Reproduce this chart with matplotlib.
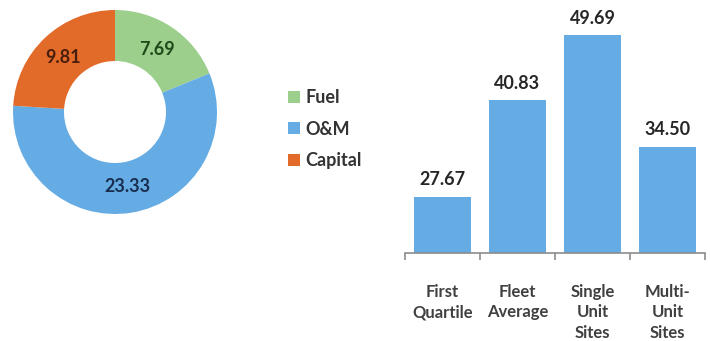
import numpy as np
import matplotlib
matplotlib.use("Agg")
import matplotlib.pyplot as plt

plt.rcParams['font.family'] = ['Lato', 'DejaVu Sans']

# Cost components (donut)
components = ["Fuel", "O&M", "Capital"]
component_values = [7.69, 23.33, 9.81]
component_colors = ["#9ccf8c", "#65ace4", "#e26b2a"]
component_label_colors = ["#1f4a1a", "#1a2e4f", "#4a1e0c"]

# Total cost by plant group (bars)
groups = ["First\nQuartile", "Fleet\nAverage", "Single\nUnit\nSites", "Multi-\nUnit\nSites"]
group_values = [27.67, 40.83, 49.69, 34.50]
bar_color = "#65ace4"

W, H = 710, 341
fig = plt.figure(figsize=(W / 100, H / 100), dpi=100)


def px_axes(left, top, right, bottom):
    return fig.add_axes([left / W, 1 - bottom / H, (right - left) / W, (bottom - top) / H])


# ---- donut ----
ax_d = px_axes(13, 10, 217, 214)
wedges, _ = ax_d.pie(component_values, colors=component_colors, startangle=90,
                     counterclock=False, radius=1.0,
                     wedgeprops=dict(width=0.5, edgecolor="none"))
ax_d.set_xlim(-1, 1)
ax_d.set_ylim(-1, 1)
ax_d.set_aspect("equal")
ax_d.axis("off")
for w, v, c in zip(wedges, component_values, component_label_colors):
    ang = np.deg2rad((w.theta1 + w.theta2) / 2)
    ax_d.text(0.74 * np.cos(ang), 0.74 * np.sin(ang), f"{v:.2f}", ha="center", va="center",
              fontsize=13, fontweight="bold", color=c)

fig.legend(wedges, components, loc="upper left",
           bbox_to_anchor=(272 / W, 1 - 73 / H), frameon=False,
           prop=dict(size=13, weight="bold"), labelcolor="#333333",
           handlelength=0.65, handleheight=0.65, handletextpad=0.3, labelspacing=0.8)

# ---- bars ----
ax_b = px_axes(405, 2, 705, 253)
x = np.arange(len(groups))
bars = ax_b.bar(x, group_values, width=0.76, color=bar_color)
ax_b.set_xlim(-0.5, len(groups) - 0.5)
ax_b.set_ylim(20, 54.2)
for s in ["top", "right", "left"]:
    ax_b.spines[s].set_visible(False)
ax_b.spines["bottom"].set_color("#8c8c8c")
ax_b.spines["bottom"].set_linewidth(1.2)
ax_b.set_yticks([])
ax_b.set_xticks(x)
ax_b.set_xticklabels(groups, fontsize=12, fontweight="bold", color="#404040",
                     linespacing=1.38, va="top")
ax_b.tick_params(axis="x", which="major", length=0, pad=22)
ax_b.set_xticks(np.arange(-0.5, len(groups)), minor=True)
ax_b.tick_params(axis="x", which="minor", length=5, width=1.2, color="#8c8c8c")
for b, v in zip(bars, group_values):
    ax_b.annotate(f"{v:.2f}", (b.get_x() + b.get_width() / 2, v), xytext=(0, 6),
                  textcoords="offset points", ha="center", va="bottom",
                  fontsize=13, fontweight="bold", color="#262626")

fig.savefig("out.png", dpi=100, facecolor="white")
